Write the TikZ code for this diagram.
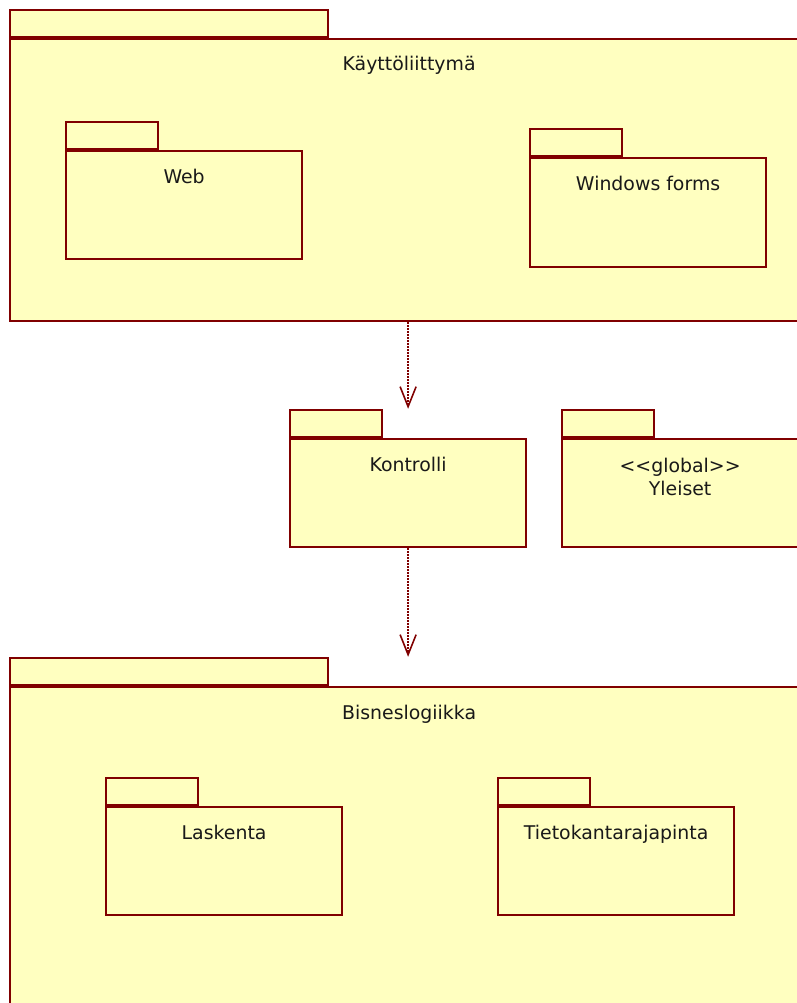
\documentclass[tikz,border=0pt]{standalone}
\usepackage{fontspec}
\setmainfont{DejaVu Sans}
\usetikzlibrary{arrows.meta}
\definecolor{pkgfill}{RGB}{255,255,192}
\definecolor{pkgline}{RGB}{128,0,0}
\tikzset{
  x=1pt, y=-1pt,
  pkgtab/.style={draw=pkgline, fill=pkgfill, line width=2.2pt, inner sep=0pt,
    anchor=south west, minimum height=27pt},
  pkgbody/.style={draw=pkgline, fill=pkgfill, line width=2.2pt, inner sep=0pt,
    anchor=north west},
  pkglabel/.style={font=\fontsize{18.9pt}{23pt}\selectfont, inner sep=0pt,
    anchor=base, align=center, text=black!90},
  dep/.style={draw=pkgline, line width=1.8pt, dash pattern=on 1.4pt off 1.6pt,
    -{Straight Barb[length=20pt, width=16pt, line width=1.6pt]}}
}
% UML package: [baseline offset of last label line], name, left x, body top y,
% body width, body height, tab width, label
\newcommand\umlpkg[8][33]{%
  \node[pkgtab, minimum width=#7pt] (#2tab) at (#3,#4) {};
  \node[pkgbody, minimum width=#5pt, minimum height=#6pt] (#2) at (#3,#4) {};
  \node[pkglabel] (#2label) at ([yshift=-#1pt]#2.north) {#8};
}
\begin{document}
\begin{tikzpicture}
\useasboundingbox (0,0) rectangle (797,1003);
\clip (0,0) rectangle (797,1003);

% user interface layer
\umlpkg{ui}{9}{38}{798}{282}{318}{Käyttöliittymä}
\umlpkg{web}{65}{150}{236}{108}{92}{Web}
\umlpkg{winforms}{529}{157}{236}{109}{92}{Windows forms}

% control and common packages
\umlpkg{kontrolli}{289}{438}{236}{108}{92}{Kontrolli}
\umlpkg[57]{yleiset}{561}{438}{236}{108}{92}{<{}<global>{}>\\Yleiset}

% business logic layer
\umlpkg{bl}{9}{686}{798}{330}{318}{Bisneslogiikka}
\umlpkg{laskenta}{105}{806}{236}{108}{92}{Laskenta}
\umlpkg{tietokanta}{497}{806}{236}{108}{92}{Tietokantarajapinta}

% dependencies
\draw[dep] (kontrolli.north |- ui.south) -- (kontrolli.north |- kontrollitab.north);
\draw[dep] (kontrolli.south) -- (kontrolli.south |- bltab.north);
\end{tikzpicture}
\end{document}
